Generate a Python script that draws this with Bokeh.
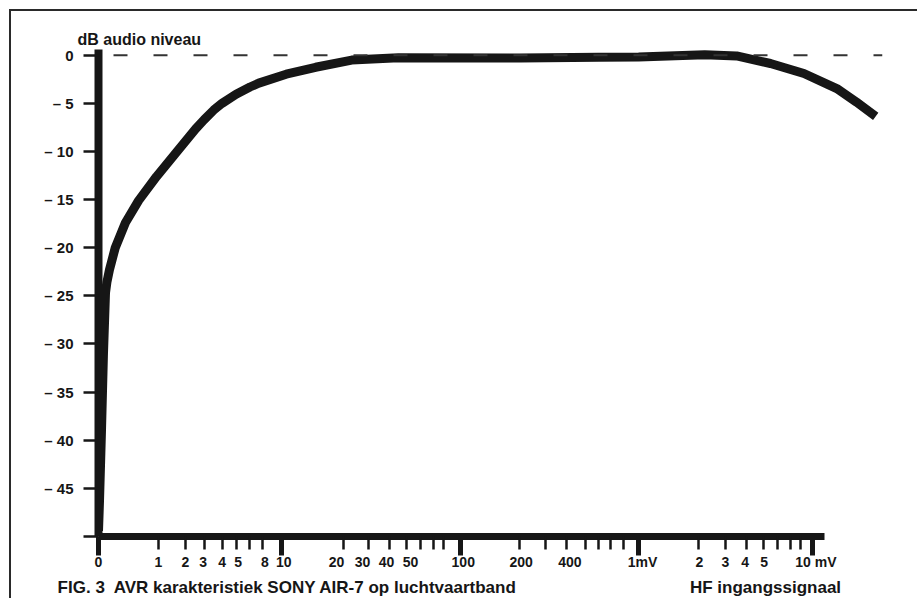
import numpy as np
from bokeh.plotting import figure
from bokeh.models import FixedTicker, LinearAxis, Span, Range1d, Title
from bokeh.embed import file_html
from bokeh.resources import INLINE

# ---------------- data ----------------
# x axis: HF input signal in microvolt; the printed scale is a hand-drawn
# logarithmic scale, given here as tick value -> position (in decades from 1 uV)
TICK_UV = [0, 1, 2, 3, 4, 5, 6, 8, 10, 20, 30, 40, 50, 60, 70, 80, 100,
           200, 300, 400, 500, 600, 700, 800, 1000,
           2000, 3000, 4000, 5000, 6000, 7000, 8000, 10000]
TICK_DECADES = [-0.366, 0.0, 0.165, 0.280, 0.390, 0.476, 0.561, 0.640, 0.756,
                1.134, 1.287, 1.415, 1.518, 1.604, 1.683, 1.744, 1.848,
                2.213, 2.372, 2.500, 2.616, 2.695, 2.768, 2.848, 2.939,
                3.305, 3.470, 3.598, 3.701, 3.787, 3.866, 3.927, 4.000]
MAJOR_UV = [0, 10, 100, 1000, 10000]

# printed tick labels and where they sit on the scale (decades)
LABELS = ["0", "1", "2", "3", "4", "5", "8", "10", "20", "30", "40", "50", "100",
          "200", "400", "1mV", "2", "3", "4", "5", "10 mV"]
LABEL_DECADES = [-0.366, 0.0, 0.165, 0.274, 0.390, 0.488, 0.652, 0.768, 1.091, 1.250,
                 1.396, 1.543, 1.866, 2.220, 2.518, 2.963, 3.311, 3.470, 3.591, 3.707, 4.024]

# y axis: dB audio level
DB_TICKS = [0, -5, -10, -15, -20, -25, -30, -35, -40, -45, -50]
DB_LABELS = ["0", "– 5", "– 10", "– 15", "– 20", "– 25", "– 30", "– 35", "– 40", "– 45", ""]

# AVR characteristic curve (input in uV, output in dB)
CURVE_UV = [0, 0.017, 0.05, 0.083, 0.117, 0.14, 0.183, 0.28, 0.45, 0.67, 0.97, 1.59, 2.5,
            3.0, 3.5, 4.0, 5.0, 6.0, 7.3, 10.5, 14.6, 22.8, 45, 200, 600, 1000, 2200, 3500,
            5500, 8600, 13900, 18000, 23300]
CURVE_DB = [-49.4, -46.3, -39.0, -31.0, -24.7, -23.6, -22.3, -20.0, -17.4, -15.1, -12.6,
            -10.1, -7.65, -6.7, -5.7, -5.0, -4.05, -3.3, -2.9, -1.97, -1.25, -0.5, -0.26,
            -0.28, -0.22, -0.18, 0.05, -0.07, -0.86, -1.9, -3.46, -4.85, -6.34]
REF_DB = 0

CAPTION = "FIG. 3\u00a0 AVR karakteristiek SONY AIR-7 op luchtvaartband"
X_TITLE = "HF ingangssignaal"
Y_TITLE = "dB audio niveau"

# ---------------- scale of the printed axis ----------------
tick_uv = np.array(TICK_UV, dtype=float)
tick_pos = np.array(TICK_DECADES, dtype=float)
last_decade = tick_pos[-1] - tick_pos[-9]


def to_scale(v):
    v = np.atleast_1d(np.asarray(v, dtype=float))
    out = np.empty_like(v)
    lo = v <= 1
    out[lo] = tick_pos[0] + v[lo] * (tick_pos[1] - tick_pos[0])
    mid = (v > 1) & (v <= 10000)
    out[mid] = np.interp(np.log10(v[mid]), np.log10(tick_uv[1:]), tick_pos[1:])
    hi = v > 10000
    out[hi] = tick_pos[-1] + last_decade * np.log10(v[hi] / 10000.0)
    return out


W, H = 908, 589
MB_L, MB_R, MB_T, MB_B = 87, 37, 37, 64
XMIN = float(tick_pos[0])
XMAX = float(to_scale(25500)[0])
YMIN, YMAX = -50.0, 0.7
AXIS_END = float(to_scale(11800)[0])
PX_X = (W - MB_L - MB_R) / (XMAX - XMIN)   # pixels per x unit

INK = "#161616"
FONT = "Liberation Sans"

p = figure(width=W, height=H, output_backend="svg", toolbar_location=None,
           x_range=Range1d(XMIN, XMAX), y_range=Range1d(YMIN, YMAX),
           x_axis_location=None, y_axis_location=None,
           min_border_left=MB_L, min_border_right=MB_R, min_border_top=MB_T,
           min_border_bottom=MB_B)
p.grid.visible = False
p.outline_line_color = None
p.background_fill_color = "white"
p.border_fill_color = "white"
# top and left rule of the scanned page
p.styles = {"border-top": "2px solid #2a2a2a", "border-left": "2px solid #2a2a2a",
            "margin-top": "9px", "margin-left": "9px"}

# y axis
yaxis = LinearAxis(ticker=FixedTicker(ticks=DB_TICKS), bounds=(-50, 0.6),
                   axis_line_width=8, axis_line_color=INK,
                   major_tick_out=15, major_tick_in=0, major_tick_line_width=2.5,
                   major_tick_line_color=INK, minor_tick_out=0, minor_tick_in=0,
                   major_label_overrides={t: l for t, l in zip(DB_TICKS, DB_LABELS)},
                   major_label_standoff=10, major_label_text_font=FONT,
                   major_label_text_font_size="15px", major_label_text_font_style="bold",
                   major_label_text_color=INK)
p.add_layout(yaxis, "left")

# x axis: line, long ticks (major) and short ticks (minor)
major_pos = [float(t) for u, t in zip(TICK_UV, TICK_DECADES) if u in MAJOR_UV]
minor_pos = [float(t) for u, t in zip(TICK_UV, TICK_DECADES) if u not in MAJOR_UV]
xaxis_a = LinearAxis(ticker=FixedTicker(ticks=major_pos, minor_ticks=minor_pos),
                     bounds=(XMIN, AXIS_END),
                     axis_line_width=7, axis_line_color=INK,
                     major_tick_out=19, major_tick_in=0, major_tick_line_width=5,
                     major_tick_line_color=INK,
                     minor_tick_out=13, minor_tick_in=0, minor_tick_line_width=2.5,
                     minor_tick_line_color=INK,
                     major_label_overrides={t: "" for t in major_pos},
                     major_label_text_color=None, major_label_standoff=0)
p.add_layout(xaxis_a, "below")

# x axis labels
label_pos = [float(t) for t in LABEL_DECADES]
xaxis_b = LinearAxis(ticker=FixedTicker(ticks=label_pos),
                     axis_line_color=None, major_tick_line_color=None,
                     minor_tick_line_color=None, major_tick_out=0, major_tick_in=0,
                     minor_tick_out=0, minor_tick_in=0,
                     major_label_overrides={t: l for t, l in zip(label_pos, LABELS)},
                     major_label_standoff=-2, major_label_text_font=FONT,
                     major_label_text_font_size="14px", major_label_text_font_style="bold",
                     major_label_text_color=INK)
p.add_layout(xaxis_b, "below")

# caption line under the axis: figure caption (left) and x quantity (right)
cap_x = XMIN + (287 - 98) / PX_X
hf_x = XMIN + (765 - 98) / PX_X
xaxis_c = LinearAxis(ticker=FixedTicker(ticks=[cap_x, hf_x]),
                     axis_line_color=None, major_tick_line_color=None,
                     minor_tick_line_color=None, major_tick_out=0, major_tick_in=0,
                     minor_tick_out=0, minor_tick_in=0,
                     major_label_overrides={cap_x: CAPTION, hf_x: X_TITLE},
                     major_label_standoff=5, major_label_text_font=FONT,
                     major_label_text_font_size="17px", major_label_text_font_style="bold",
                     major_label_text_color=INK)
p.add_layout(xaxis_c, "below")

# y quantity, above the axis
p.add_layout(Title(text=Y_TITLE, align="left", offset=-21, standoff=2,
                   text_font=FONT, text_font_size="16px", text_font_style="bold",
                   text_color=INK), "above")

# 0 dB reference (dashed)
p.add_layout(Span(location=REF_DB, dimension="width", line_color="#333333", line_width=1.8,
                  line_dash="14 26", line_dash_offset=25))

# curve
p.line(x=to_scale(CURVE_UV), y=CURVE_DB, line_width=9, line_color=INK,
       line_join="round", line_cap="butt")

open("out.html", "w").write(file_html(p, INLINE))
